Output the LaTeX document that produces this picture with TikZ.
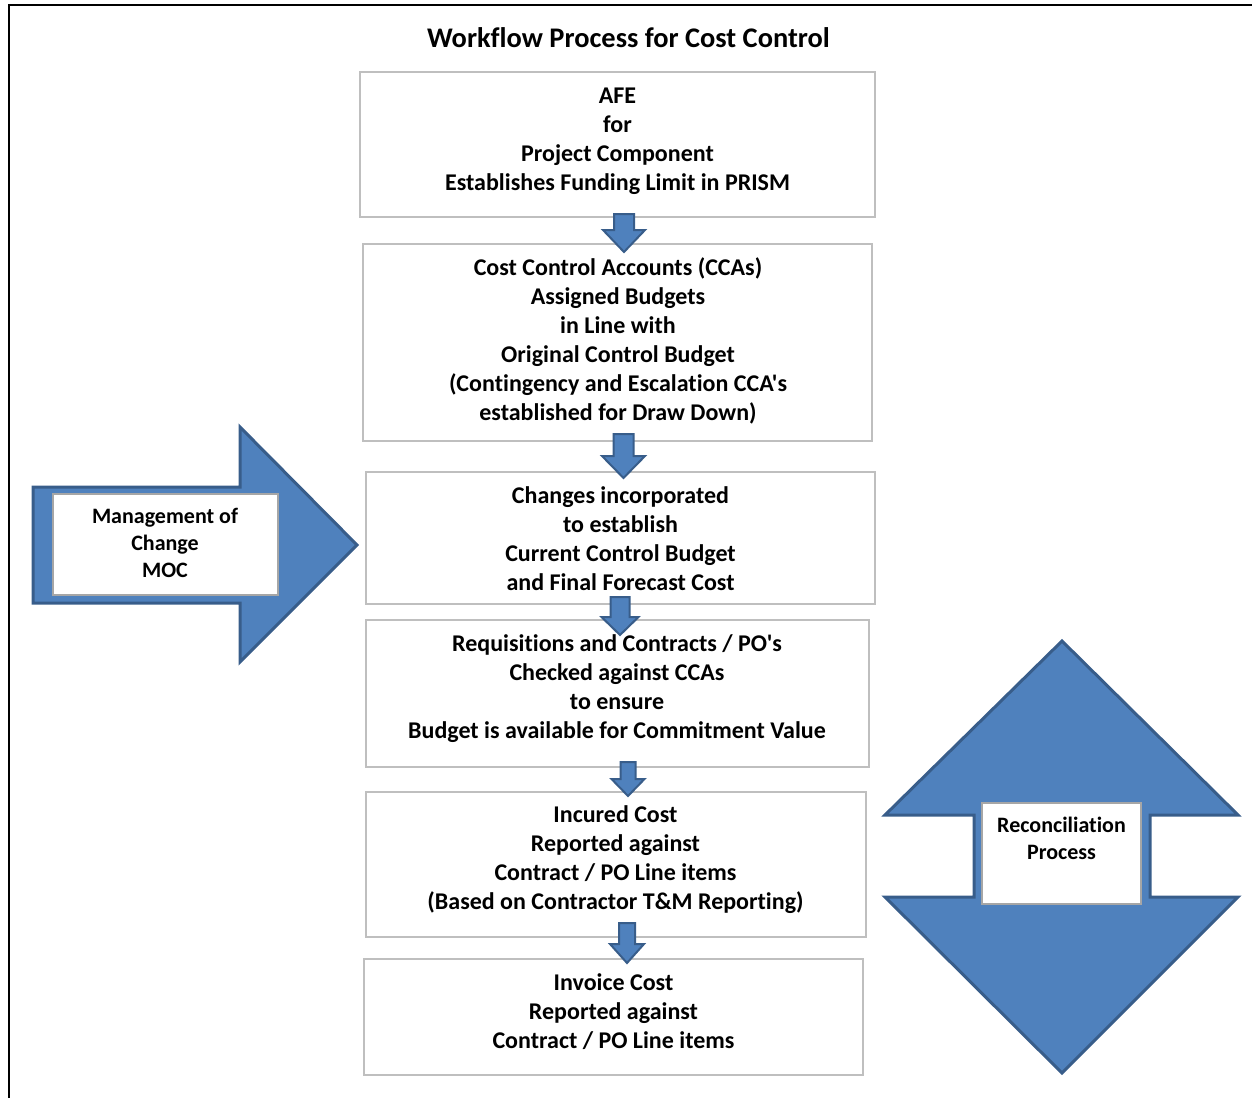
\documentclass[tikz,border=0pt]{standalone}
\usepackage{fontspec}
\setmainfont{Carlito}[Ligatures={TeXOff,NoCommon}]
\usetikzlibrary{fit}
\definecolor{arrowfill}{HTML}{4F81BD}
\definecolor{arrowline}{HTML}{385D8A}
\definecolor{boxline}{HTML}{BFBFBF}
\definecolor{labelline}{HTML}{A6A6A6}
\begin{document}
\begin{tikzpicture}[x=0.5pt,y=-0.5pt,
  stepbox/.style={draw=boxline,line width=0.75pt,fill=white,inner sep=0pt},
  labelbox/.style={draw=labelline,line width=0.9pt,fill=white,inner sep=0pt},
  steptext/.style={font=\bfseries\fontsize{12}{14.5}\selectfont,align=center,inner sep=0pt},
  sidetext/.style={font=\bfseries\fontsize{11}{13.5}\selectfont,align=center,inner sep=0pt},
  bigarrow/.style={fill=arrowfill,draw=arrowline,line width=1.5pt,line join=miter},
  smallarrow/.style={fill=arrowfill,draw=arrowline,line width=1pt,line join=miter},
  pics/dnarrow/.style n args={4}{code={
    \draw[smallarrow] (-#1,0) -- (#1,0) -- (#1,#3) -- (#2,#3) -- (0,{#3+#4})
      -- (-#2,#3) -- (-#1,#3) -- cycle;}}
]
\useasboundingbox (0,0) rectangle (1252,1097);

% outer frame (top and left edges)
\draw[line width=1pt] (9,1110) -- (9,5.3) -- (1262,5.3);

% title
\node[font=\bfseries\fontsize{14.2}{17}\selectfont,inner sep=0pt] (title) at (628.5,38) {Workflow Process for Cost Control};

% process steps
\node[stepbox,fit={(360,72) (875,217)}] (b1) {};
\node[stepbox,fit={(363,244) (872,441)}] (b2) {};
\node[stepbox,fit={(366,472) (875,604)}] (b3) {};
\node[stepbox,fit={(366,620) (869,767)}] (b4) {};
\node[stepbox,fit={(366,792) (866,937)}] (b5) {};
\node[stepbox,fit={(364,959) (863,1075)}] (b6) {};

\node[steptext] (t1) at (617.5,141.5) {AFE\\for\\Project Component\\Establishes Funding Limit in PRISM};
\node[steptext] (t2) at (618,340.5) {Cost Control Accounts (CCAs)\\Assigned Budgets\\in Line with\\Original Control Budget\\(Contingency and Escalation CCA's\\established for Draw Down)};
\node[steptext] (t3) at (620.5,538.5) {Changes incorporated\\to establish\\Current Control Budget\\and Final Forecast Cost};
\node[steptext] (t4) at (617,688.5) {Requisitions and Contracts / PO's\\Checked against CCAs\\to ensure\\Budget is available for Commitment Value};
\node[steptext] (t5) at (615.5,859.5) {Incured Cost\\Reported against\\Contract / PO Line items\\(Based on Contractor T\&M Reporting)};
\node[steptext] (t6) at (613.5,1012) {Invoice Cost\\Reported against\\Contract / PO Line items};

% block arrows between the steps
\pic (a1) at (624,214) {dnarrow={10}{21}{16}{22}};
\pic (a2) at (623.5,434) {dnarrow={10}{21.5}{22}{22}};
\pic (a3) at (620,597) {dnarrow={9.5}{18.5}{20}{18}};
\pic (a4) at (628,762) {dnarrow={7.5}{16.5}{17}{17}};
\pic (a5) at (627,923) {dnarrow={8}{17}{21}{19}};

% management of change arrow
\draw[bigarrow] (33,487) -- (240,487) -- (240,427) -- (357,545) -- (240,662)
  -- (240,603) -- (33,603) -- cycle;
\node[labelbox,fit={(53,494) (278,595)}] (mocbox) {};
\node[sidetext] (moc) at (165,543) {Management of\\Change\\MOC};

% reconciliation double arrow
\draw[bigarrow] (1062,641) -- (1238,815) -- (1150,815) -- (1150,897) -- (1238,897)
  -- (1062,1073) -- (885,897) -- (974,897) -- (974,815) -- (885,815) -- cycle;
\node[labelbox,fit={(982,803) (1141,904)}] (recbox) {};
\node[sidetext] (rec) at (1061.5,838.5) {Reconciliation\\Process};
\end{tikzpicture}
\end{document}
